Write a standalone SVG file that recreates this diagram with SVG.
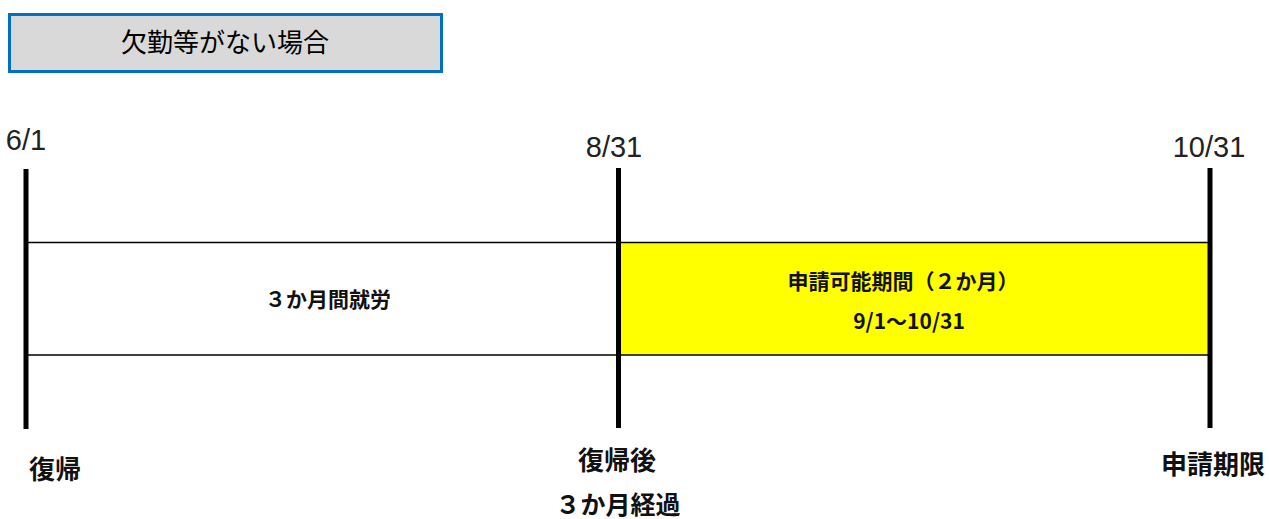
<svg xmlns="http://www.w3.org/2000/svg" width="1270" height="519" viewBox="0 0 1270 519">
<style>
.t{font-family:"Noto Sans CJK JP","Liberation Sans",sans-serif;fill:#000}
.d{font-family:"Liberation Sans","Noto Sans CJK JP",sans-serif;font-size:29px;fill:#222;text-anchor:middle}
.b{font-family:"Noto Sans CJK JP","Liberation Sans",sans-serif;font-weight:bold;fill:#111;text-anchor:middle}
.v{stroke:#000;stroke-width:5}
</style>
<rect width="1270" height="519" fill="#fff"/>
<g id="title">
<rect x="9.5" y="14.5" width="432" height="57" fill="#d9d9d9" stroke="#0070c0" stroke-width="3"/>
<text class="t" x="225" y="52" font-size="26" text-anchor="middle" fill="#222">欠勤等がない場合</text>
</g>
<g id="period-work">
<rect x="26" y="242.5" width="592" height="112.5" fill="#fff" stroke="#000" stroke-width="1.5"/>
<text class="b" x="328" y="307" font-size="21">３か月間就労</text>
</g>
<g id="period-apply">
<rect x="618" y="242.5" width="591" height="112.5" fill="#ffff00" stroke="#000" stroke-width="1.5"/>
<text class="b" x="903" y="289" font-size="21">申請可能期間（２か月）</text>
<text class="b" x="909" y="329" font-size="21">9/1～10/31</text>
</g>
<g id="connectors">
<line class="v" x1="26" y1="169" x2="26" y2="429"/>
<line class="v" x1="618.5" y1="168" x2="618.5" y2="428"/>
<line class="v" x1="1210" y1="168" x2="1210" y2="428"/>
</g>
<g id="m1">
<text class="d" x="26" y="150">6/1</text>
<text class="b" x="55" y="479" font-size="26">復帰</text>
</g>
<g id="m2">
<text class="d" x="614" y="157">8/31</text>
<text class="b" x="617" y="470" font-size="26">復帰後</text>
<text class="b" x="618" y="514" font-size="25">３か月経過</text>
</g>
<g id="m3">
<text class="d" x="1209" y="157">10/31</text>
<text class="b" x="1213" y="474" font-size="26">申請期限</text>
</g>
</svg>
